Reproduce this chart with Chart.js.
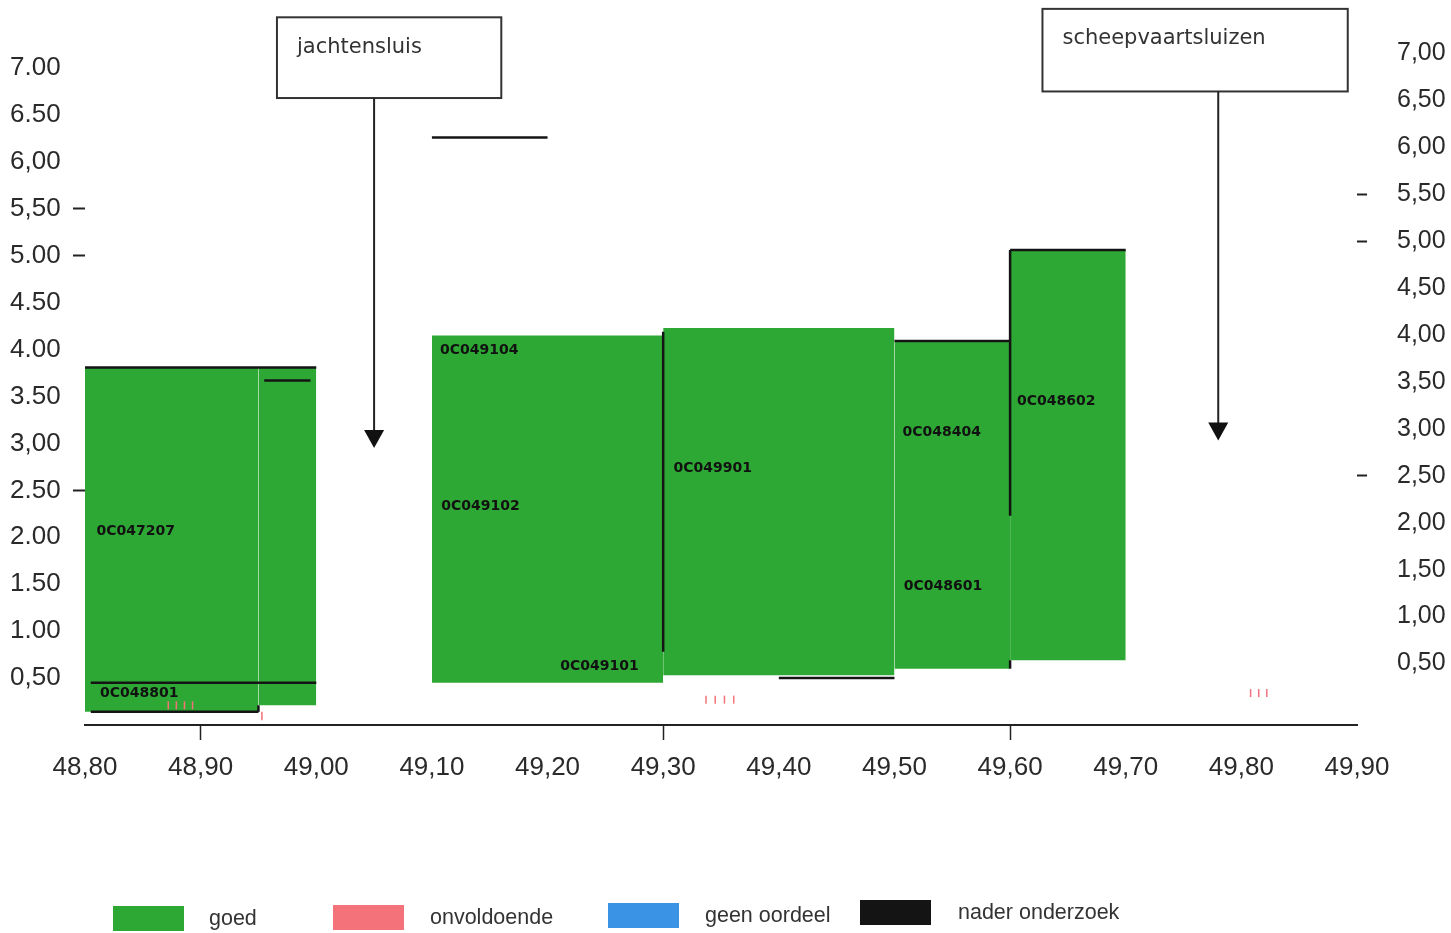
<!DOCTYPE html>
<html>
<head>
<meta charset="utf-8">
<script src="https://cdn.jsdelivr.net/npm/chart.js@4.4.1/dist/chart.umd.min.js"></script>
<style>
  html, body { margin: 0; padding: 0; background: #fff; }
  #wrap { width: 1451px; height: 933px; }
</style>
</head>
<body>
<div id="wrap"><canvas id="sluisChart" width="1451" height="933"></canvas></div>
<script>
// As (km) en tick labels
const xTickValues = [48.8, 48.9, 49.0, 49.1, 49.2, 49.3, 49.4, 49.5, 49.6, 49.7, 49.8, 49.9];
const xTickLabels = ['48,80', '48,90', '49,00', '49,10', '49,20', '49,30', '49,40', '49,50', '49,60', '49,70', '49,80', '49,90'];
const xTickMarks = [48.9, 49.3, 49.6];

const yTickValues = [0.5, 1, 1.5, 2, 2.5, 3, 3.5, 4, 4.5, 5, 5.5, 6, 6.5, 7];
const leftTickLabels = ['0,50', '1.00', '1.50', '2.00', '2.50', '3,00', '3.50', '4.00', '4.50', '5.00', '5,50', '6,00', '6.50', '7.00'];
const rightTickLabels = ['0,50', '1,00', '1,50', '2,00', '2,50', '3,00', '3,50', '4,00', '4,50', '5,00', '5,50', '6,00', '6,50', '7,00'];
const yDashTicks = [2.5, 5, 5.5];

// Vakken (groen = goed)
const blockStart = [48.80, 48.95, 49.10, 49.30, 49.50, 49.60];
const blockEnd   = [48.95, 49.00, 49.30, 49.50, 49.60, 49.70];
const blockLow   = [0.14, 0.21, 0.45, 0.53, 0.60, 0.69];
const blockHigh  = [3.81, 3.81, 4.15, 4.23, 4.08, 5.06];

// Zwarte lijnstukken
const lineX0 = [48.80, 48.955, 48.805, 48.805, 48.95, 49.30, 49.40, 49.50, 49.60, 49.60, 49.60, 49.10];
const lineY0 = [3.81, 3.67, 0.45, 0.14, 0.14, 0.78, 0.50, 4.09, 5.06, 5.06, 0.60, 6.26];
const lineX1 = [49.00, 48.995, 49.00, 48.95, 48.95, 49.30, 49.50, 49.60, 49.60, 49.70, 49.60, 49.20];
const lineY1 = [3.81, 3.67, 0.45, 0.14, 0.21, 4.19, 0.50, 4.09, 2.23, 5.06, 0.69, 6.26];

// Vakcodes
const codeNames = ['0C047207', '0C048801', '0C049104', '0C049102', '0C049101', '0C049901', '0C048404', '0C048601', '0C048602'];
const codeX = [48.81, 48.813, 49.107, 49.108, 49.211, 49.309, 49.507, 49.508, 49.606];
const codeY = [2.06, 0.34, 3.99, 2.33, 0.62, 2.73, 3.12, 1.48, 3.45];

// Rode markeringen (onvoldoende)
const redX = [48.872, 48.879, 48.886, 48.893, 49.337, 49.345, 49.353, 49.361, 49.808, 49.815, 49.822];
const redY = [0.21, 0.21, 0.21, 0.21, 0.27, 0.27, 0.27, 0.27, 0.34, 0.34, 0.34];

// Sluizen
const sluisNames = ['jachtensluis', 'scheepvaartsluizen'];
const sluisX0 = [48.966, 49.628];
const sluisX1 = [49.160, 49.892];
const sluisTop = [7.54, 7.63];
const sluisBottom = [6.68, 6.75];
const sluisArrowX = [49.05, 49.78];
const sluisArrowTo = [2.95, 3.03];

const colors = {
    goed: '#2ea834',
    onvoldoende: '#f4727a',
    geenOordeel: '#3b93e6',
    nader: '#141414',
    text: '#2a2a2a'
};

const datasets = [];

// lijnen eerst (komen bovenop)
lineX0.forEach((x, i) => {
    datasets.push({
        data: [{ x: x, y: lineY0[i] }, { x: lineX1[i], y: lineY1[i] }],
        borderColor: colors.nader,
        borderWidth: 2.5,
        pointRadius: 0,
        fill: false,
        order: 0
    });
});

datasets.push({
    data: redX.map((x, i) => ({ x: x, y: redY[i] })),
    showLine: false,
    pointStyle: 'line',
    rotation: 90,
    pointRadius: 4,
    borderColor: colors.onvoldoende,
    borderWidth: 1.5,
    order: 0
});
datasets.push({
    data: [{ x: 48.953, y: 0.14 }, { x: 48.953, y: 0.05 }],
    borderColor: colors.onvoldoende,
    borderWidth: 1.5,
    pointRadius: 0,
    fill: false,
    order: 0
});

blockStart.forEach((x, i) => {
    datasets.push({
        data: [{ x: x, y: blockHigh[i] }, { x: blockEnd[i], y: blockHigh[i] }],
        borderWidth: 0,
        borderColor: colors.goed,
        backgroundColor: colors.goed,
        pointRadius: 0,
        fill: { value: blockLow[i] },
        order: 1
    });
});

// Labels, sluizen en legenda
const overlayPlugin = {
    id: 'overlay',
    afterDatasetsDraw(chart) {
        const ctx = chart.ctx;
        const xs = chart.scales.x;
        const ys = chart.scales.y;

        ctx.save();
        // vakcodes
        ctx.fillStyle = '#111';
        ctx.font = 'bold 14px "DejaVu Sans"';
        ctx.textAlign = 'left';
        ctx.textBaseline = 'middle';
        codeNames.forEach((name, i) => {
            ctx.fillText(name, xs.getPixelForValue(codeX[i]), ys.getPixelForValue(codeY[i]));
        });

        // sluizen
        sluisNames.forEach((name, i) => {
            const x0 = xs.getPixelForValue(sluisX0[i]);
            const x1 = xs.getPixelForValue(sluisX1[i]);
            const yt = ys.getPixelForValue(sluisTop[i]);
            const yb = ys.getPixelForValue(sluisBottom[i]);
            ctx.strokeStyle = '#333';
            ctx.lineWidth = 2;
            ctx.strokeRect(x0, yt, x1 - x0, yb - yt);
            ctx.fillStyle = '#333';
            ctx.font = '21px "DejaVu Sans"';
            ctx.textAlign = 'left';
            ctx.textBaseline = 'middle';
            ctx.fillText(name, x0 + 20, yt + 30);

            const ax = xs.getPixelForValue(sluisArrowX[i]);
            const ay = ys.getPixelForValue(sluisArrowTo[i]);
            ctx.strokeStyle = '#222';
            ctx.beginPath();
            ctx.moveTo(ax, yb);
            ctx.lineTo(ax, ay - 16);
            ctx.stroke();
            ctx.fillStyle = '#111';
            ctx.beginPath();
            ctx.moveTo(ax - 10, ay - 18);
            ctx.lineTo(ax + 10, ay - 18);
            ctx.lineTo(ax, ay);
            ctx.closePath();
            ctx.fill();
        });

        // legenda
        const legend = [
            { label: 'goed', color: colors.goed, bx: 113, by: 906, tx: 209 },
            { label: 'onvoldoende', color: colors.onvoldoende, bx: 333, by: 905, tx: 430 },
            { label: 'geen oordeel', color: colors.geenOordeel, bx: 608, by: 903, tx: 705 },
            { label: 'nader onderzoek', color: colors.nader, bx: 860, by: 900, tx: 958 }
        ];
        ctx.font = '21.5px "Liberation Sans", Arial, sans-serif';
        ctx.textBaseline = 'middle';
        legend.forEach(item => {
            ctx.fillStyle = item.color;
            ctx.fillRect(item.bx, item.by, 71, 25);
            ctx.fillStyle = '#333';
            ctx.fillText(item.label, item.tx, item.by + 13);
        });
        ctx.restore();
    }
};

const tickFont = { family: '"Liberation Sans", Arial, sans-serif', size: 26 };
const near = (a, list) => list.some(v => Math.abs(v - a) < 1e-6);

new Chart(document.getElementById('sluisChart'), {
    type: 'line',
    data: { datasets: datasets },
    options: {
        responsive: false,
        animation: false,
        events: [],
        layout: { padding: { top: 9, left: 10, right: 0, bottom: 0 } },
        plugins: {
            legend: { display: false },
            tooltip: { enabled: false }
        },
        scales: {
            x: {
                type: 'linear',
                min: 48.8,
                max: 49.9,
                bounds: 'data',
                afterBuildTicks: scale => { scale.ticks = xTickValues.map(v => ({ value: v })); },
                afterFit: scale => { scale.height = 208; },
                border: { display: true, color: '#222', width: 2 },
                grid: {
                    drawOnChartArea: false,
                    tickLength: 15,
                    tickWidth: 1.5,
                    tickColor: c => (c.tick && near(c.tick.value, xTickMarks)) ? '#222' : 'rgba(0,0,0,0)'
                },
                ticks: {
                    autoSkip: false,
                    maxRotation: 0,
                    padding: 12,
                    color: colors.text,
                    font: tickFont,
                    callback: (v, i) => xTickLabels[i]
                }
            },
            y: {
                type: 'linear',
                position: 'left',
                min: 0,
                max: 7.245,
                bounds: 'data',
                afterBuildTicks: scale => { scale.ticks = yTickValues.map(v => ({ value: v })); },
                afterFit: scale => { scale.width = 75; },
                border: { display: false },
                grid: {
                    drawOnChartArea: false,
                    tickLength: 12,
                    tickWidth: 2,
                    tickColor: c => (c.tick && near(c.tick.value, yDashTicks)) ? '#222' : 'rgba(0,0,0,0)'
                },
                ticks: {
                    crossAlign: 'far',
                    color: colors.text,
                    font: tickFont,
                    callback: (v, i) => leftTickLabels[i]
                }
            },
            y2: {
                type: 'linear',
                position: 'right',
                min: -0.155,
                max: 7.09,
                bounds: 'data',
                afterBuildTicks: scale => { scale.ticks = yTickValues.map(v => ({ value: v })); },
                afterFit: scale => { scale.width = 94; },
                border: { display: false },
                grid: {
                    drawOnChartArea: false,
                    tickLength: 10,
                    tickWidth: 2,
                    tickColor: c => (c.tick && near(c.tick.value, yDashTicks)) ? '#222' : 'rgba(0,0,0,0)'
                },
                ticks: {
                    padding: 30,
                    color: colors.text,
                    font: { family: '"Liberation Sans", Arial, sans-serif', size: 25 },
                    callback: (v, i) => rightTickLabels[i]
                }
            }
        }
    },
    plugins: [overlayPlugin]
});
</script>
</body>
</html>
